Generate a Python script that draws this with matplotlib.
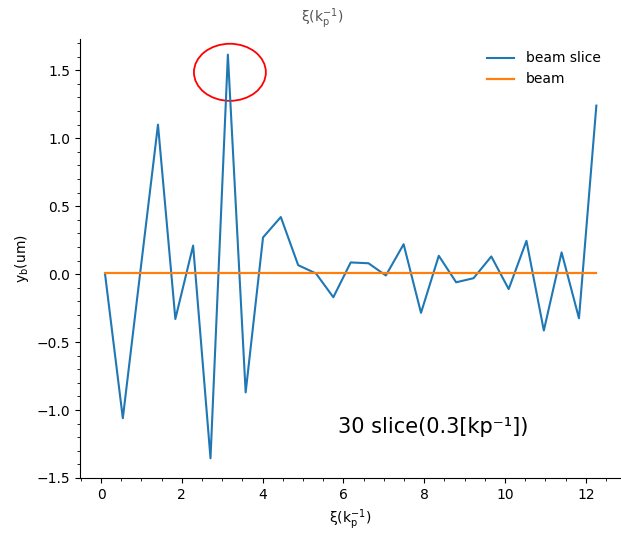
import numpy as np
import matplotlib
matplotlib.use('Agg')
import matplotlib.pyplot as plt
from matplotlib.patches import Ellipse
from matplotlib.ticker import MultipleLocator

# slice centres (kp^-1) and centroid offset of each slice (um)
xi = [0.10, 0.54, 0.97, 1.41, 1.84, 2.28, 2.71, 3.14, 3.58, 4.01,
      4.45, 4.88, 5.32, 5.75, 6.18, 6.62, 7.05, 7.49, 7.92, 8.36,
      8.79, 9.22, 9.66, 10.09, 10.53, 10.96, 11.40, 11.83, 12.26]
yb_slice = [0.00, -1.06, 0.01, 1.10, -0.33, 0.21, -1.355, 1.615, -0.87, 0.27,
            0.42, 0.066, 0.005, -0.17, 0.086, 0.08, -0.01, 0.22, -0.285, 0.135,
            -0.06, -0.03, 0.13, -0.11, 0.245, -0.415, 0.16, -0.325, 1.24]
yb_beam = 0.008   # whole-beam centroid

fig = plt.figure(figsize=(6.21, 5.35), dpi=100)
ax = fig.add_axes([80/621, 57/535, 541/621, 439/535])

ax.plot(xi, yb_slice, color='C0', lw=1.5, label='beam slice')
ax.plot([xi[0], xi[-1]], [yb_beam, yb_beam], color='C1', lw=1.6, label='beam')

# mark the largest kick
ax.add_patch(Ellipse((3.19, 1.485), 1.78, 0.42, fill=False, edgecolor='red', lw=1.3, clip_on=False))

ax.set_xlim(-0.52, 12.87)
ax.set_ylim(-1.5, 1.73)
ax.xaxis.set_major_locator(MultipleLocator(2))
ax.xaxis.set_minor_locator(MultipleLocator(0.5))
ax.yaxis.set_major_locator(MultipleLocator(0.5))
ax.yaxis.set_minor_locator(MultipleLocator(0.1))
ax.spines['top'].set_visible(False)
ax.spines['right'].set_visible(False)

xlab = r'ξ($\mathregular{k_p^{-1}}$)'
ax.set_xlabel(xlab)
ax.set_ylabel(r'$\mathregular{y_b}$(um)')
fig.text(322/621, 1 - 19/535, xlab, ha='center', va='center', color='#555555')

ax.legend(loc='upper right', frameon=False, bbox_to_anchor=(0.985, 1.0))

ax.text(5.86, -1.17, '30 slice(0.3[kp⁻¹])', fontsize=15, ha='left', va='baseline')

fig.savefig('out.png', dpi=100)
